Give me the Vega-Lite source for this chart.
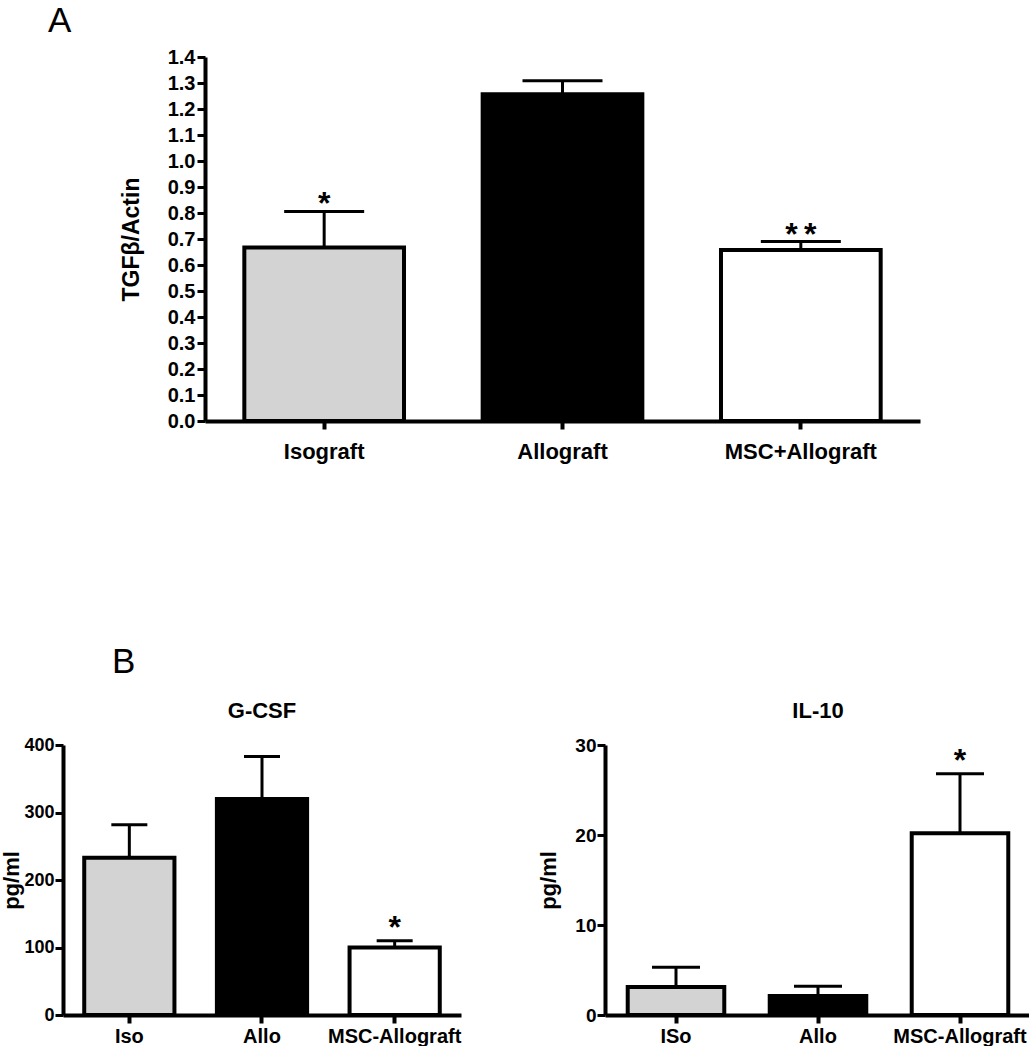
{
  "$schema": "https://vega.github.io/schema/vega-lite/v6.json",
  "padding": {"left": 0, "top": 4, "right": 0, "bottom": 0},
  "background": "white",
  "config": {
    "font": "Liberation Sans",
    "view": {"stroke": null},
    "axis": {
      "grid": false,
      "domainColor": "black",
      "domainWidth": 4,
      "tickColor": "black",
      "tickWidth": 3,
      "tickSize": 8,
      "labelColor": "black",
      "labelFontWeight": "bold",
      "labelFont": "Liberation Sans",
      "labelOverlap": false,
      "labelBound": false,
      "titleColor": "black",
      "titleFontWeight": "bold",
      "titleFont": "Liberation Sans"
    },
    "title": {"font": "Liberation Sans", "color": "black"}
  },
  "datasets": {
    "tgf": [
      {"group": "Isograft", "kind": "iso", "value": 0.667, "upper": 0.806, "star": "*"},
      {"group": "Allograft", "kind": "allo", "value": 1.257, "upper": 1.309, "star": ""},
      {"group": "MSC+Allograft", "kind": "msc", "value": 0.658, "upper": 0.69, "star": "*\u2009*"}
    ],
    "gcsf": [
      {"group": "Iso", "kind": "iso", "value": 233, "upper": 282, "star": ""},
      {"group": "Allo", "kind": "allo", "value": 320, "upper": 383, "star": ""},
      {"group": "MSC-Allograft", "kind": "msc", "value": 100, "upper": 110, "star": "*"}
    ],
    "il10": [
      {"group": "ISo", "kind": "iso", "value": 3.1, "upper": 5.3, "star": ""},
      {"group": "Allo", "kind": "allo", "value": 2.1, "upper": 3.2, "star": ""},
      {"group": "MSC-Allograft", "kind": "msc", "value": 20.2, "upper": 26.8, "star": "*"}
    ]
  },
  "spacing": 183,
  "vconcat": [
    {
      "data": {"name": "tgf"},
      "width": 857,
      "height": 364,
      "title": {"text": "A", "anchor": "start", "frame": "group", "dx": -15, "offset": -20, "baseline": "alphabetic", "fontSize": 35, "fontWeight": "normal"},
      "encoding": {
        "x": {
          "field": "group", "type": "nominal", "sort": null,
          "scale": {"range": [142, 857], "paddingInner": 0.33, "paddingOuter": 0.165},
          "axis": {"title": null, "labelAngle": 0, "labelFontSize": 22, "labelPadding": 12, "tickWidth": 4}
        }
      },
      "layer": [
        {
          "mark": {"type": "bar", "stroke": "black", "strokeWidth": 4},
          "encoding": {
            "y": {
              "field": "value", "type": "quantitative",
              "scale": {"domain": [0, 1.4], "nice": false},
              "axis": {"title": "TGFβ/Actin", "offset": -142, "values": [0, 0.1, 0.2, 0.3, 0.4, 0.5, 0.6, 0.7, 0.8, 0.9, 1.0, 1.1, 1.2, 1.3, 1.4], "format": ".1f", "labelFontSize": 20, "labelPadding": 2, "titleFontSize": 23, "titlePadding": 24}
            },
            "fill": {"field": "kind", "type": "nominal", "scale": {"domain": ["iso", "allo", "msc"], "range": ["#d3d3d3", "#000000", "#ffffff"]}, "legend": null}
          }
        },
        {
          "mark": {"type": "rule", "color": "black", "strokeWidth": 3, "opacity": 1},
          "encoding": {
            "y": {"field": "value", "type": "quantitative", "axis": {"title": "TGFβ/Actin", "offset": -142, "values": [0, 0.1, 0.2, 0.3, 0.4, 0.5, 0.6, 0.7, 0.8, 0.9, 1.0, 1.1, 1.2, 1.3, 1.4], "format": ".1f", "labelFontSize": 20, "labelPadding": 2, "titleFontSize": 23, "titlePadding": 24}},
            "y2": {"field": "upper"}
          }
        },
        {
          "mark": {"type": "tick", "color": "black", "thickness": 3, "size": 80, "orient": "horizontal", "opacity": 1},
          "encoding": {"y": {"field": "upper", "type": "quantitative", "axis": {"title": "TGFβ/Actin", "offset": -142, "values": [0, 0.1, 0.2, 0.3, 0.4, 0.5, 0.6, 0.7, 0.8, 0.9, 1.0, 1.1, 1.2, 1.3, 1.4], "format": ".1f", "labelFontSize": 20, "labelPadding": 2, "titleFontSize": 23, "titlePadding": 24}}}
        },
        {
          "transform": [{"filter": "datum.star != ''"}],
          "mark": {"type": "text", "fontSize": 32, "fontWeight": "bold", "color": "black", "baseline": "alphabetic", "dy": 3},
          "encoding": {"y": {"field": "upper", "type": "quantitative", "axis": {"title": "TGFβ/Actin", "offset": -142, "values": [0, 0.1, 0.2, 0.3, 0.4, 0.5, 0.6, 0.7, 0.8, 0.9, 1.0, 1.1, 1.2, 1.3, 1.4], "format": ".1f", "labelFontSize": 20, "labelPadding": 2, "titleFontSize": 23, "titlePadding": 24}}, "text": {"field": "star"}}
        }
      ]
    },
    {
      "title": {"text": "B", "anchor": "start", "frame": "group", "dx": 49, "offset": -8, "baseline": "alphabetic", "fontSize": 35, "fontWeight": "normal"},
      "spacing": 76,
      "hconcat": [
        {
          "data": {"name": "gcsf"},
          "width": 398,
          "height": 270,
          "title": {"text": "G-CSF", "offset": -4, "baseline": "alphabetic", "fontSize": 22, "fontWeight": "bold"},
          "encoding": {
            "x": {
              "field": "group", "type": "nominal", "sort": null,
              "scale": {"paddingInner": 0.32, "paddingOuter": 0.16},
              "axis": {"title": null, "labelAngle": 0, "labelFontSize": 20, "labelPadding": 3, "tickWidth": 4}
            }
          },
          "layer": [
            {
              "mark": {"type": "bar", "stroke": "black", "strokeWidth": 4},
              "encoding": {
                "y": {
                  "field": "value", "type": "quantitative",
                  "scale": {"domain": [0, 400], "nice": false},
                  "axis": {"title": "pg/ml", "values": [0, 100, 200, 300, 400], "labelFontSize": 18, "labelPadding": 1, "titleFontSize": 22, "titlePadding": 0}
                },
                "fill": {"field": "kind", "type": "nominal", "scale": {"domain": ["iso", "allo", "msc"], "range": ["#d3d3d3", "#000000", "#ffffff"]}, "legend": null}
              }
            },
            {
              "mark": {"type": "rule", "color": "black", "strokeWidth": 3, "opacity": 1},
              "encoding": {"y": {"field": "value", "type": "quantitative", "axis": {"title": "pg/ml", "values": [0, 100, 200, 300, 400], "labelFontSize": 18, "labelPadding": 1, "titleFontSize": 22, "titlePadding": 0}}, "y2": {"field": "upper"}}
            },
            {
              "mark": {"type": "tick", "color": "black", "thickness": 3, "size": 36, "orient": "horizontal", "opacity": 1},
              "encoding": {"y": {"field": "upper", "type": "quantitative", "axis": {"title": "pg/ml", "values": [0, 100, 200, 300, 400], "labelFontSize": 18, "labelPadding": 1, "titleFontSize": 22, "titlePadding": 0}}}
            },
            {
              "transform": [{"filter": "datum.star != ''"}],
              "mark": {"type": "text", "fontSize": 32, "fontWeight": "bold", "color": "black", "baseline": "alphabetic", "dy": -3},
              "encoding": {"y": {"field": "upper", "type": "quantitative", "axis": {"title": "pg/ml", "values": [0, 100, 200, 300, 400], "labelFontSize": 18, "labelPadding": 1, "titleFontSize": 22, "titlePadding": 0}}, "text": {"field": "star"}}
            }
          ]
        },
        {
          "data": {"name": "il10"},
          "width": 426,
          "height": 270,
          "title": {"text": "IL-10", "offset": -4, "baseline": "alphabetic", "fontSize": 22, "fontWeight": "bold"},
          "encoding": {
            "x": {
              "field": "group", "type": "nominal", "sort": null,
              "scale": {"paddingInner": 0.32, "paddingOuter": 0.16},
              "axis": {"title": null, "labelAngle": 0, "labelFontSize": 20, "labelPadding": 3, "tickWidth": 4}
            }
          },
          "layer": [
            {
              "mark": {"type": "bar", "stroke": "black", "strokeWidth": 4},
              "encoding": {
                "y": {
                  "field": "value", "type": "quantitative",
                  "scale": {"domain": [0, 30], "nice": false},
                  "axis": {"title": "pg/ml", "values": [0, 10, 20, 30], "labelFontSize": 19, "labelPadding": 1, "titleFontSize": 22, "titlePadding": 14}
                },
                "fill": {"field": "kind", "type": "nominal", "scale": {"domain": ["iso", "allo", "msc"], "range": ["#d3d3d3", "#000000", "#ffffff"]}, "legend": null}
              }
            },
            {
              "mark": {"type": "rule", "color": "black", "strokeWidth": 3, "opacity": 1},
              "encoding": {"y": {"field": "value", "type": "quantitative", "axis": {"title": "pg/ml", "values": [0, 10, 20, 30], "labelFontSize": 19, "labelPadding": 1, "titleFontSize": 22, "titlePadding": 14}}, "y2": {"field": "upper"}}
            },
            {
              "mark": {"type": "tick", "color": "black", "thickness": 3, "size": 48, "orient": "horizontal", "opacity": 1},
              "encoding": {"y": {"field": "upper", "type": "quantitative", "axis": {"title": "pg/ml", "values": [0, 10, 20, 30], "labelFontSize": 19, "labelPadding": 1, "titleFontSize": 22, "titlePadding": 14}}}
            },
            {
              "transform": [{"filter": "datum.star != ''"}],
              "mark": {"type": "text", "fontSize": 32, "fontWeight": "bold", "color": "black", "baseline": "alphabetic", "dy": -3},
              "encoding": {"y": {"field": "upper", "type": "quantitative", "axis": {"title": "pg/ml", "values": [0, 10, 20, 30], "labelFontSize": 19, "labelPadding": 1, "titleFontSize": 22, "titlePadding": 14}}, "text": {"field": "star"}}
            }
          ]
        }
      ]
    }
  ]
}
